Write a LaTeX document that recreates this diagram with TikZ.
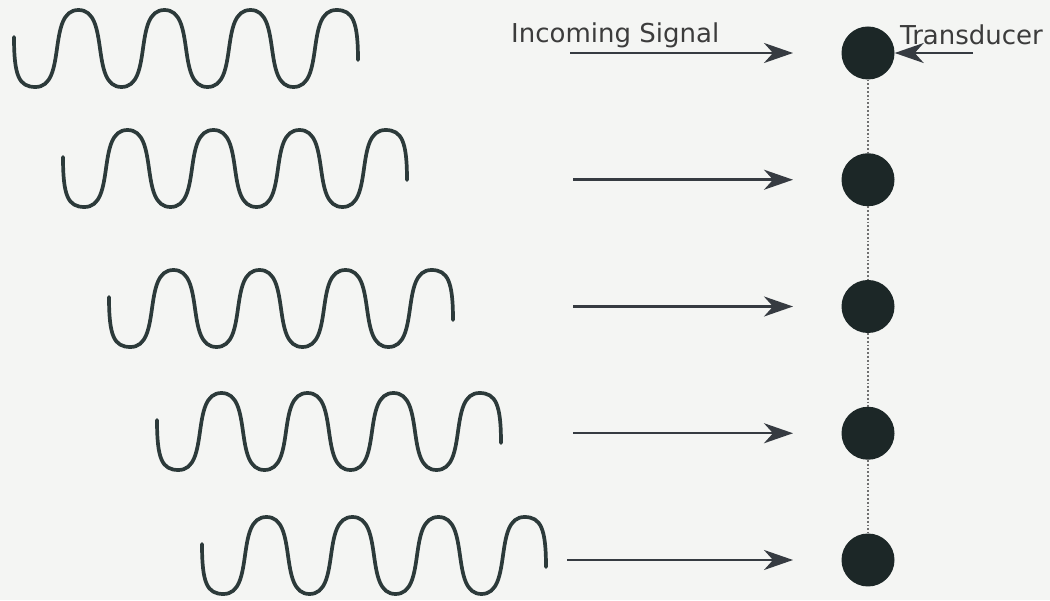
\documentclass[tikz,border=0pt]{standalone}
\usepackage{fontspec}
\setmainfont{DejaVu Sans}
\usetikzlibrary{arrows.meta}
\definecolor{bg}{HTML}{F4F5F3}
\definecolor{wavecol}{HTML}{2C3A3A}
\definecolor{dotcol}{HTML}{1C2727}
\definecolor{arrcol}{HTML}{363B41}
\definecolor{txtcol}{HTML}{3C3C3C}
\definecolor{linkcol}{HTML}{707070}
\tikzset{
  wave/.pic={
    \draw[wavestroke] (0,-27) .. controls (0,-66) and (5,-77) .. (21.5,-77)
      .. controls (53.5,-77) and (32.5,0) .. (64.5,0)
      .. controls (96.5,0) and (75.5,-77) .. (107.5,-77)
      .. controls (139.5,-77) and (118.5,0) .. (150.5,0)
      .. controls (182.5,0) and (161.5,-77) .. (193.5,-77)
      .. controls (225.5,-77) and (204.5,0) .. (236.5,0)
      .. controls (268.5,0) and (247.5,-77) .. (279.5,-77)
      .. controls (311.5,-77) and (290.5,0) .. (322.5,0)
      .. controls (339,0) and (344,-12) .. (344,-50);
  },
  wavestroke/.style={draw=wavecol, line width=3.7pt, line cap=round, line join=round},
  transducer/.style={circle, fill=dotcol, draw=none, minimum size=53pt, inner sep=0pt},
  arr/.style={draw=arrcol, line width=2.5pt, -{Stealth[length=29pt, width=20pt, inset=9pt]}},
  link/.style={draw=linkcol, line width=1.8pt, dotted},
  lbl/.style={text=txtcol, font=\fontsize{26}{30}\selectfont, inner sep=0pt}
}
\begin{document}
\begin{tikzpicture}[x=1pt, y=1pt]
\fill[bg] (0,0) rectangle (1050,600);
\useasboundingbox (0,0) rectangle (1050,600);
% waves (top-left of each wave)
\pic at (14,590) {wave};
\pic at (63,470) {wave};
\pic at (109,330) {wave};
\pic at (157,207) {wave};
\pic at (202,83) {wave};
% transducers
\node[transducer] (d1) at (868,547) {};
\node[transducer] (d2) at (868,420.25) {};
\node[transducer] (d3) at (868,293.5) {};
\node[transducer] (d4) at (868,166.75) {};
\node[transducer] (d5) at (868,40) {};
\draw[link] (d1.south) -- (d2.north);
\draw[link] (d2.south) -- (d3.north);
\draw[link] (d3.south) -- (d4.north);
\draw[link] (d4.south) -- (d5.north);
% arrow coordinates
\coordinate (s1) at (570,547);      \coordinate (e1) at (793,547);
\coordinate (s2) at (573,420.25);   \coordinate (e2) at (793,420.25);
\coordinate (s3) at (573,293.5);    \coordinate (e3) at (793,293.5);
\coordinate (s4) at (573,166.75);   \coordinate (e4) at (793,166.75);
\coordinate (s5) at (567,40);       \coordinate (e5) at (793,40);
\draw[arr] (s1) -- (e1);
\draw[arr] (s2) -- (e2);
\draw[arr] (s3) -- (e3);
\draw[arr] (s4) -- (e4);
\draw[arr] (s5) -- (e5);
\coordinate (t0) at (973,547);
\draw[arr] (t0) -- (d1.east);
% labels
\node[lbl, anchor=base west] (incoming) at (511,557) {Incoming Signal};
\node[lbl, anchor=base west] (tlabel) at (900,555) {Transducer};
\end{tikzpicture}
\end{document}
